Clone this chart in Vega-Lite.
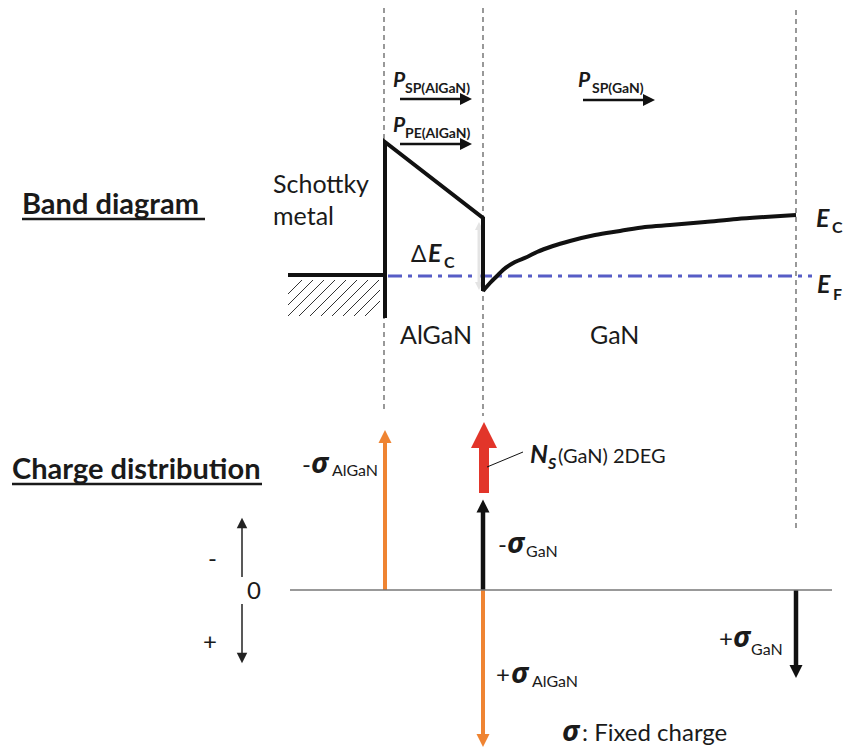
{
  "$schema": "https://vega.github.io/schema/vega-lite/v6.json",
  "width": 848,
  "height": 748,
  "padding": 0,
  "autosize": {"type": "fit", "contains": "padding"},
  "background": "white",
  "config": {"view": {"stroke": null}},
  "datasets": {
    "layerBounds": [
      {"x": 384, "y": 8, "x2": 384, "y2": 412},
      {"x": 483, "y": 8, "x2": 483, "y2": 416},
      {"x": 796, "y": 10, "x2": 796, "y2": 530}
    ],
    "fermi": [{"x": 388, "y": 276, "x2": 812, "y2": 276}],
    "metal": [{"x": 288, "y": 275, "x2": 386, "y2": 275}],
    "hatch": [
      {"x": 288, "y": 294, "x2": 302, "y2": 280},
      {"x": 288, "y": 305, "x2": 313, "y2": 280},
      {"x": 288, "y": 316, "x2": 324, "y2": 280},
      {"x": 299, "y": 316, "x2": 335, "y2": 280},
      {"x": 310, "y": 316, "x2": 346, "y2": 280},
      {"x": 321, "y": 316, "x2": 357, "y2": 280},
      {"x": 332, "y": 316, "x2": 368, "y2": 280},
      {"x": 343, "y": 316, "x2": 379, "y2": 280},
      {"x": 354, "y": 316, "x2": 380, "y2": 290},
      {"x": 365, "y": 316, "x2": 380, "y2": 301}
    ],
    "bandEdge": [
      {"x": 385, "y": 318, "o": 1},
      {"x": 385, "y": 142, "o": 2},
      {"x": 483, "y": 218, "o": 3},
      {"x": 483, "y": 291, "o": 4}
    ],
    "gan": [
      {"x": 483, "y": 291},
      {"x": 490, "y": 283},
      {"x": 497, "y": 276},
      {"x": 503, "y": 270},
      {"x": 515, "y": 262},
      {"x": 527, "y": 257},
      {"x": 537, "y": 252},
      {"x": 553, "y": 246},
      {"x": 570, "y": 241},
      {"x": 595, "y": 235},
      {"x": 620, "y": 231},
      {"x": 645, "y": 227},
      {"x": 670, "y": 225},
      {"x": 705, "y": 222},
      {"x": 737, "y": 219},
      {"x": 765, "y": 217},
      {"x": 796, "y": 215}
    ],
    "zeroLine": [{"x": 290, "y": 590, "x2": 832, "y2": 590}],
    "underline": [
      {"x": 22, "y": 219, "x2": 205, "y2": 219},
      {"x": 12, "y": 484, "x2": 262, "y2": 484}
    ],
    "leader": [{"x": 487, "y": 467, "x2": 523, "y2": 452}],
    "shafts": [
      {"x": 385, "y": 590, "x2": 385, "y2": 440, "kind": "AlGaN charge"},
      {"x": 484, "y": 493, "x2": 484, "y2": 446, "kind": "2DEG"},
      {"x": 483, "y": 590, "x2": 483, "y2": 510, "kind": "GaN charge"},
      {"x": 483, "y": 590, "x2": 483, "y2": 736, "kind": "AlGaN charge"},
      {"x": 796, "y": 590, "x2": 796, "y2": 667, "kind": "GaN charge"},
      {"x": 242, "y": 577, "x2": 242, "y2": 526, "kind": "sign"},
      {"x": 242, "y": 604, "x2": 242, "y2": 655, "kind": "sign"},
      {"x": 400, "y": 99, "x2": 462, "y2": 99, "kind": "polarization"},
      {"x": 400, "y": 144, "x2": 462, "y2": 144, "kind": "polarization"},
      {"x": 583, "y": 100, "x2": 645, "y2": 100, "kind": "polarization"},
      {"x": 479, "y": 228, "x2": 479, "y2": 284, "kind": "offset"}
    ],
    "heads": [
      {"x": 385, "y": 436.5, "dir": "up", "kind": "AlGaN charge"},
      {"x": 484, "y": 435, "dir": "up", "kind": "2DEG"},
      {"x": 483, "y": 506, "dir": "up", "kind": "GaN charge"},
      {"x": 483, "y": 740.5, "dir": "down", "kind": "AlGaN charge"},
      {"x": 796, "y": 671.5, "dir": "down", "kind": "GaN charge"},
      {"x": 242, "y": 523, "dir": "up", "kind": "sign"},
      {"x": 242, "y": 658, "dir": "down", "kind": "sign"},
      {"x": 466, "y": 99, "dir": "right", "kind": "polarization"},
      {"x": 466, "y": 144, "dir": "right", "kind": "polarization"},
      {"x": 649, "y": 100, "dir": "right", "kind": "polarization"},
      {"x": 479, "y": 226, "dir": "up", "kind": "offset"},
      {"x": 479, "y": 286, "dir": "down", "kind": "offset"}
    ],
    "headings": [
      {"x": 22, "y": 214, "text": "Band diagram"},
      {"x": 12, "y": 479, "text": "Charge distribution"}
    ],
    "bandLabels": [
      {"x": 273, "y": 193, "text": "Schottky"},
      {"x": 273, "y": 225, "text": "metal"},
      {"x": 400, "y": 344, "text": "AlGaN"},
      {"x": 590, "y": 344, "text": "GaN"}
    ],
    "chargeLabels": [
      {"x": 247, "y": 599, "text": "0"},
      {"x": 208, "y": 567, "text": "-"},
      {"x": 203, "y": 650, "text": "+"},
      {"x": 302, "y": 473, "text": "-"},
      {"x": 498, "y": 553, "text": "-"},
      {"x": 496, "y": 683, "text": "+"},
      {"x": 719, "y": 647, "text": "+"},
      {"x": 582, "y": 741, "text": ": Fixed charge"}
    ],
    "sheetLabels": [
      {"x": 558, "y": 463, "text": "(GaN)"},
      {"x": 613, "y": 463, "text": "2DEG"}
    ],
    "polSymbols": [
      {"x": 393, "y": 87, "text": "P"},
      {"x": 393, "y": 132, "text": "P"},
      {"x": 578, "y": 87, "text": "P"}
    ],
    "polSubs": [
      {"x": 405, "y": 93, "text": "SP(AlGaN)"},
      {"x": 405, "y": 138, "text": "PE(AlGaN)"},
      {"x": 592, "y": 93, "text": "SP(GaN)"}
    ],
    "energySymbols": [
      {"x": 428, "y": 262, "text": "E"},
      {"x": 816, "y": 227, "text": "E"},
      {"x": 817, "y": 293, "text": "E"},
      {"x": 530, "y": 463, "text": "N"}
    ],
    "energySubs": [
      {"x": 444, "y": 268, "text": "C"},
      {"x": 832, "y": 233, "text": "C"},
      {"x": 833, "y": 300, "text": "F"}
    ],
    "densitySub": [{"x": 548, "y": 469, "text": "S"}],
    "delta": [{"x": 411, "y": 262, "text": "Δ"}],
    "sigmas": [
      {"x": 311, "y": 473, "text": "σ"},
      {"x": 507, "y": 553, "text": "σ"},
      {"x": 511, "y": 683, "text": "σ"},
      {"x": 733, "y": 647, "text": "σ"},
      {"x": 562, "y": 741, "text": "σ"}
    ],
    "sigmaSubs": [
      {"x": 332, "y": 476, "text": "AlGaN"},
      {"x": 526, "y": 557, "text": "GaN"},
      {"x": 532, "y": 687, "text": "AlGaN"},
      {"x": 751, "y": 655, "text": "GaN"}
    ]
  },
  "encoding": {
    "x": {"field": "x", "type": "quantitative", "scale": {"domain": [0, 848], "nice": false, "zero": false}, "axis": null},
    "y": {"field": "y", "type": "quantitative", "scale": {"domain": [0, 748], "nice": false, "zero": false, "reverse": true}, "axis": null}
  },
  "layer": [
    {
      "data": {"name": "layerBounds"},
      "mark": {"type": "rule", "color": "#555555", "strokeWidth": 1.2, "strokeDash": [5, 4]},
      "encoding": {"x2": {"field": "x2"}, "y2": {"field": "y2"}}
    },
    {
      "data": {"name": "hatch"},
      "mark": {"type": "rule", "color": "#333333", "strokeWidth": 1},
      "encoding": {"x2": {"field": "x2"}, "y2": {"field": "y2"}}
    },
    {
      "data": {"name": "metal"},
      "mark": {"type": "rule", "color": "#111111", "strokeWidth": 4},
      "encoding": {"x2": {"field": "x2"}, "y2": {"field": "y2"}}
    },
    {
      "data": {"name": "fermi"},
      "mark": {"type": "rule", "color": "#575DC6", "strokeWidth": 3.2, "strokeDash": [14, 6, 4, 6]},
      "encoding": {"x2": {"field": "x2"}, "y2": {"field": "y2"}}
    },
    {
      "data": {"name": "shafts"},
      "mark": {"type": "rule"},
      "encoding": {
        "x2": {"field": "x2"},
        "y2": {"field": "y2"},
        "color": {"field": "kind", "type": "nominal", "legend": null,
          "scale": {"domain": ["AlGaN charge", "GaN charge", "2DEG", "sign", "polarization", "offset"],
                    "range": ["#EF8432", "#111111", "#E2352A", "#222222", "#111111", "#E4E4E4"]}},
        "strokeWidth": {"field": "kind", "type": "nominal", "legend": null,
          "scale": {"type": "ordinal", "domain": ["AlGaN charge", "GaN charge", "2DEG", "sign", "polarization", "offset"],
                    "range": [4, 4.5, 10, 1.5, 2.5, 3]}}
      }
    },
    {
      "data": {"name": "heads"},
      "mark": {"type": "point", "filled": true, "opacity": 1, "strokeWidth": 0},
      "encoding": {
        "shape": {"field": "dir", "type": "nominal", "legend": null,
          "scale": {"domain": ["up", "down", "right"],
                    "range": ["M-1,1L0,-1L1,1Z", "M-1,-1L0,1L1,-1Z", "M-1,-1L1,0L-1,1Z"]}},
        "color": {"field": "kind", "type": "nominal", "legend": null,
          "scale": {"domain": ["AlGaN charge", "GaN charge", "2DEG", "sign", "polarization", "offset"],
                    "range": ["#EF8432", "#111111", "#E2352A", "#222222", "#111111", "#E4E4E4"]}},
        "size": {"field": "kind", "type": "nominal", "legend": null,
          "scale": {"type": "ordinal", "domain": ["AlGaN charge", "GaN charge", "2DEG", "sign", "polarization", "offset"],
                    "range": [169, 169, 676, 110, 144, 64]}}
      }
    },
    {
      "data": {"name": "bandEdge"},
      "mark": {"type": "line", "color": "#111111", "strokeWidth": 4, "strokeJoin": "miter"},
      "encoding": {"order": {"field": "o", "type": "quantitative"}}
    },
    {
      "data": {"name": "gan"},
      "mark": {"type": "line", "color": "#111111", "strokeWidth": 4, "interpolate": "monotone"},
      "encoding": {}
    },
    {
      "data": {"name": "zeroLine"},
      "mark": {"type": "rule", "color": "#777777", "strokeWidth": 1.5},
      "encoding": {"x2": {"field": "x2"}, "y2": {"field": "y2"}}
    },
    {
      "data": {"name": "underline"},
      "mark": {"type": "rule", "color": "#1a1a1a", "strokeWidth": 2.5},
      "encoding": {"x2": {"field": "x2"}, "y2": {"field": "y2"}}
    },
    {
      "data": {"name": "leader"},
      "mark": {"type": "rule", "color": "#111111", "strokeWidth": 1},
      "encoding": {"x2": {"field": "x2"}, "y2": {"field": "y2"}}
    },
    {
      "data": {"name": "headings"},
      "mark": {"type": "text", "align": "left", "baseline": "alphabetic", "font": "Lato", "fontWeight": "bold", "fontSize": 29, "color": "#1a1a1a"},
      "encoding": {"text": {"field": "text"}}
    },
    {
      "data": {"name": "bandLabels"},
      "mark": {"type": "text", "align": "left", "baseline": "alphabetic", "font": "Lato", "fontSize": 25, "color": "#1a1a1a"},
      "encoding": {"text": {"field": "text"}}
    },
    {
      "data": {"name": "chargeLabels"},
      "mark": {"type": "text", "align": "left", "baseline": "alphabetic", "font": "Lato", "fontSize": 24, "color": "#1a1a1a"},
      "encoding": {"text": {"field": "text"}}
    },
    {
      "data": {"name": "sheetLabels"},
      "mark": {"type": "text", "align": "left", "baseline": "alphabetic", "font": "Lato", "fontSize": 20, "color": "#1a1a1a"},
      "encoding": {"text": {"field": "text"}}
    },
    {
      "data": {"name": "polSymbols"},
      "mark": {"type": "text", "align": "left", "baseline": "alphabetic", "font": "Lato", "fontWeight": "bold", "fontStyle": "italic", "fontSize": 21, "color": "#1a1a1a"},
      "encoding": {"text": {"field": "text"}}
    },
    {
      "data": {"name": "polSubs"},
      "mark": {"type": "text", "align": "left", "baseline": "alphabetic", "font": "Lato", "fontWeight": "bold", "fontSize": 14, "color": "#1a1a1a"},
      "encoding": {"text": {"field": "text"}}
    },
    {
      "data": {"name": "energySymbols"},
      "mark": {"type": "text", "align": "left", "baseline": "alphabetic", "font": "Lato", "fontWeight": "bold", "fontStyle": "italic", "fontSize": 25, "color": "#1a1a1a"},
      "encoding": {"text": {"field": "text"}}
    },
    {
      "data": {"name": "energySubs"},
      "mark": {"type": "text", "align": "left", "baseline": "alphabetic", "font": "Lato", "fontWeight": "bold", "fontSize": 16, "color": "#1a1a1a"},
      "encoding": {"text": {"field": "text"}}
    },
    {
      "data": {"name": "densitySub"},
      "mark": {"type": "text", "align": "left", "baseline": "alphabetic", "font": "Lato", "fontWeight": "bold", "fontStyle": "italic", "fontSize": 16, "color": "#1a1a1a"},
      "encoding": {"text": {"field": "text"}}
    },
    {
      "data": {"name": "delta"},
      "mark": {"type": "text", "align": "left", "baseline": "alphabetic", "font": "Noto Sans", "fontSize": 24, "color": "#1a1a1a"},
      "encoding": {"text": {"field": "text"}}
    },
    {
      "data": {"name": "sigmas"},
      "mark": {"type": "text", "align": "left", "baseline": "alphabetic", "font": "Noto Sans", "fontWeight": "bold", "fontStyle": "italic", "fontSize": 29, "color": "#1a1a1a"},
      "encoding": {"text": {"field": "text"}}
    },
    {
      "data": {"name": "sigmaSubs"},
      "mark": {"type": "text", "align": "left", "baseline": "alphabetic", "font": "Lato", "fontSize": 16, "color": "#1a1a1a"},
      "encoding": {"text": {"field": "text"}}
    }
  ]
}
